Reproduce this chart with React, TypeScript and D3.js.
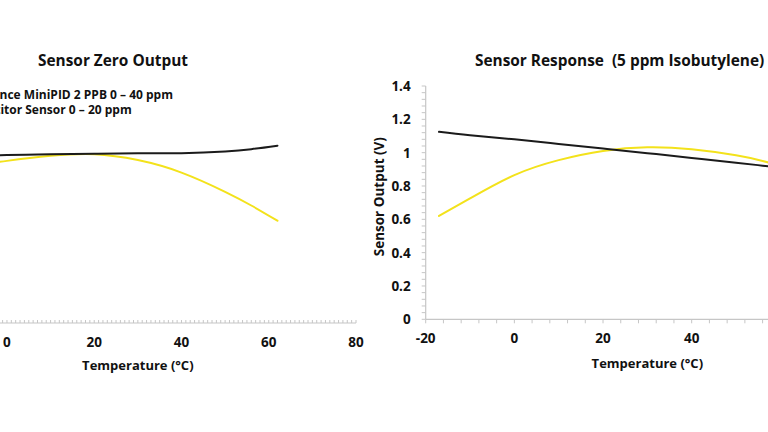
import * as d3 from "d3";
import { useLayoutEffect, useRef, useState } from "react";

// temperatures (°C) shared by every series
const temps = [-17, -10, 0, 10, 20, 30, 40, 50, 56, 62];

// zero output (V)
const zeroMiniPid = [0.99, 0.995, 1.005, 1.01, 1.013, 1.015, 1.016, 1.026, 1.04, 1.061];
const zeroCompetitor = [0.89, 0.93, 0.97, 1.0, 1.01, 0.975, 0.9, 0.785, 0.703, 0.612];

// response to 5 ppm isobutylene (V)
const respMiniPid = [1.125, 1.105, 1.08, 1.052, 1.025, 0.997, 0.968, 0.94, 0.922, 0.905];
const respCompetitor = [0.62, 0.725, 0.865, 0.955, 1.01, 1.032, 1.02, 0.984, 0.95, 0.908];

const xTickLabels = [-20, 0, 20, 40, 60, 80];
const yTickLabels = [0, 0.2, 0.4, 0.6, 0.8, 1, 1.2, 1.4];

const legendNames = ["Ion Science MiniPID 2 PPB 0 – 40 ppm", "Competitor Sensor 0 – 20 ppm"];

const FONT = "'Open Sans', sans-serif";
const AXIS = "#c6c6c6";
const BLACK = "#1b1b1b";
const YELLOW = "#f3e21b";

type Series = { values: number[]; color: string };

function makeLine(x: d3.ScaleLinear<number, number>, y: d3.ScaleLinear<number, number>) {
  return d3
    .line<number>()
    .x((_, i) => x(temps[i]))
    .y((v) => y(v))
    .curve(d3.curveNatural);
}

function Panel({
  x,
  y,
  series,
  title,
  titleX,
  titleAnchor,
  labelY,
  showYAxis,
  xMinorStep,
  tickUp,
}: {
  x: d3.ScaleLinear<number, number>;
  y: d3.ScaleLinear<number, number>;
  series: Series[];
  title: string;
  titleX: number;
  titleAnchor: "start" | "middle";
  labelY: number;
  showYAxis: boolean;
  xMinorStep: number;
  tickUp: boolean;
}) {
  const line = makeLine(x, y);
  const [x0, x1] = x.range();
  const [y0, y1] = y.range();
  const minorX = d3.range(-20, 80 + 0.001, xMinorStep);
  const minorY = d3.range(0, 1.4 + 0.001, 0.04);
  const cx = (x0 + x1) / 2;

  return (
    <g>
      <text x={titleX} y={66} textAnchor={titleAnchor} fontSize={15.4} fontWeight={700} fontFamily={FONT} fill="#111">
        {title}
      </text>

      {/* x axis */}
      <line x1={x0} x2={x1} y1={y0} y2={y0} stroke={AXIS} strokeWidth={1.2} />
      {minorX.map((t) => (
        <line
          key={"mx" + t}
          x1={x(t)}
          x2={x(t)}
          y1={y0}
          y2={tickUp ? y0 - 3 : y0 + 4}
          stroke={AXIS}
          strokeWidth={1}
        />
      ))}
      {xTickLabels.map((t) => (
        <text
          key={"xt" + t}
          x={x(t)}
          y={y0 + 24}
          textAnchor="middle"
          fontSize={13.5}
          fontWeight={700}
          fontFamily={FONT}
          fill="#111"
        >
          {t}
        </text>
      ))}
      <text x={cx} y={labelY} textAnchor="middle" fontSize={13} fontWeight={700} fontFamily={FONT} fill="#111">
        Temperature (°C)
      </text>

      {showYAxis && (
        <g>
          <line x1={x0} x2={x0} y1={y0} y2={y1} stroke={AXIS} strokeWidth={1.2} />
          {minorY.map((v) => (
            <line key={"my" + v} x1={x0 - 4} x2={x0} y1={y(v)} y2={y(v)} stroke={AXIS} strokeWidth={1} />
          ))}
          {yTickLabels.map((v) => (
            <text
              key={"yt" + v}
              x={x0 - 15}
              y={y(v) + 5}
              textAnchor="end"
              fontSize={13.5}
              fontWeight={700}
              fontFamily={FONT}
              fill="#111"
            >
              {v}
            </text>
          ))}
          <text
            transform={`translate(${x0 - 41.5},${(y0 + y1) / 2 - 6}) rotate(-90)`}
            textAnchor="middle"
            fontSize={13.5}
            fontWeight={700}
            fontFamily={FONT}
            fill="#111"
          >
            Sensor Output (V)
          </text>
        </g>
      )}

      {series.map((s, i) => (
        <path key={i} d={line(s.values) ?? ""} fill="none" stroke={s.color} strokeWidth={2} strokeLinecap="round" />
      ))}
    </g>
  );
}

export default function App() {
  const legendRef = useRef<SVGTextElement | null>(null);
  const [legendX, setLegendX] = useState(-50);

  // first legend row ends at a fixed spot; both rows share its left edge
  useLayoutEffect(() => {
    if (legendRef.current) {
      const w = legendRef.current.getComputedTextLength();
      setLegendX(173 - w);
    }
  }, []);

  const xLeft = d3.scaleLinear().domain([-20, 80]).range([-80.3, 356]);
  const yLeft = d3.scaleLinear().domain([0, 1.4]).range([323, 89]);
  const xRight = d3.scaleLinear().domain([-20, 80]).range([425.7, 869]);
  const yRight = d3.scaleLinear().domain([0, 1.4]).range([319.3, 86]);

  return (
    <svg width={768} height={432} style={{ position: "absolute", left: 0, top: 0, background: "#fff" }}>
      <rect width={768} height={432} fill="#fff" />
      <Panel
        x={xLeft}
        y={yLeft}
        series={[
          { values: zeroCompetitor, color: YELLOW },
          { values: zeroMiniPid, color: BLACK },
        ]}
        title="Sensor Zero Output"
        titleX={113}
        titleAnchor="middle"
        labelY={369.5}
        showYAxis={false}
        xMinorStep={1}
        tickUp={true}
      />
      {legendNames.map((name, i) => (
        <text
          key={name}
          ref={i === 0 ? legendRef : undefined}
          x={legendX}
          y={99 + i * 15}
          fontSize={12}
          fontWeight={700}
          fontFamily={FONT}
          fill="#111"
        >
          {name}
        </text>
      ))}
      <Panel
        x={xRight}
        y={yRight}
        series={[
          { values: respCompetitor, color: YELLOW },
          { values: respMiniPid, color: BLACK },
        ]}
        title={"Sensor Response\u00a0 (5 ppm Isobutylene)"}
        titleX={475}
        titleAnchor="start"
        labelY={367.5}
        showYAxis={true}
        xMinorStep={4}
        tickUp={false}
      />
    </svg>
  );
}
